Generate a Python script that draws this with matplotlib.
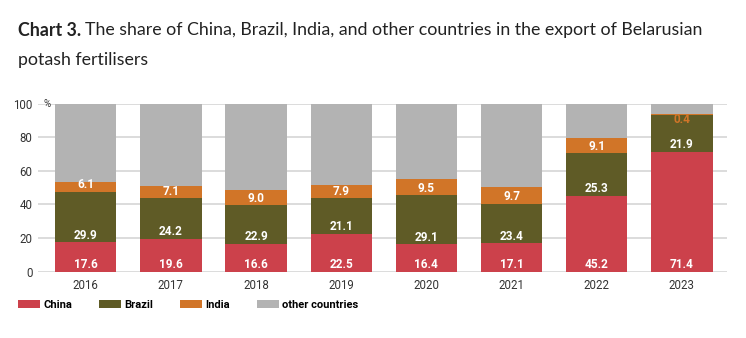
import matplotlib.pyplot as plt
import numpy as np

years = ["2016", "2017", "2018", "2019", "2020", "2021", "2022", "2023"]
china = [17.6, 19.6, 16.6, 22.5, 16.4, 17.1, 45.2, 71.4]
brazil = [29.9, 24.2, 22.9, 21.1, 29.1, 23.4, 25.3, 21.9]
india = [6.1, 7.1, 9.0, 7.9, 9.5, 9.7, 9.1, 0.4]
series_names = ["China", "Brazil", "India", "other countries"]
colors = ["#cc414b", "#5f5b26", "#d17528", "#b3b3b3"]

other = [round(100 - c - b - i, 1) for c, b, i in zip(china, brazil, india)]

fig = plt.figure(figsize=(7.46, 3.38), dpi=100)
ax = fig.add_axes([38 / 746, 1 - 271.7 / 338, (727 - 38) / 746, (271.7 - 103.6) / 338])

x = np.arange(len(years))
bottom = np.zeros(len(years))
for name, vals, col in zip(series_names, [china, brazil, india, other], colors):
    vals = np.array(vals)
    ax.bar(x, vals, width=0.72, bottom=bottom, color=col, label=name, zorder=2)
    if name != "other countries":
        for xi, b, v in zip(x, bottom, vals):
            if v < 2:
                # too thin to hold its label: tuck it just under the segment
                ax.text(xi, b - 2.6, f"{v:.1f}", ha="center", va="center",
                        color=col, fontsize=8.5, fontweight="bold", family="Roboto", zorder=3)
            else:
                ax.text(xi, b + 4.1, f"{v:.1f}", ha="center", va="center",
                        color="white", fontsize=8.5, fontweight="bold", family="Roboto", zorder=3)
    bottom += vals

ax.set_xlim(-0.56, 7.53)
ax.set_ylim(0, 100)
ax.set_yticks([0, 20, 40, 60, 80, 100])
ax.set_xticks(x)
ax.set_xticklabels(years)
ax.yaxis.grid(True, color="#dcdcdc", linewidth=1.4, zorder=0)
ax.set_axisbelow(True)
ax.tick_params(axis="both", length=0, labelsize=8.3, labelcolor="#333333")
ax.tick_params(axis="y", pad=4)
ax.tick_params(axis="x", pad=5)
for lab in ax.get_xticklabels() + ax.get_yticklabels():
    lab.set_family("Roboto")
for s in ax.spines.values():
    s.set_visible(False)

ax.text(-0.5, 100, "%", ha="left", va="center", fontsize=7, color="#333333",
        family="Roboto", zorder=3)

# title: bold lead-in followed by regular text on the same line
title_y1 = 1 - 30 / 338
title_y2 = 1 - 60 / 338
head = fig.text(18 / 746, title_y1, "Chart 3.", fontsize=12.75, color="#222222",
                family="Lato", fontweight="bold", va="center")
fig.canvas.draw()
bb = head.get_window_extent(renderer=fig.canvas.get_renderer())
fig.text((bb.x1 + 4) / 746, title_y1,
         "The share of China, Brazil, India, and other countries in the export of Belarusian",
         fontsize=12.75, color="#222222", family="Lato", va="center")
fig.text(18 / 746, title_y2, "potash fertilisers", fontsize=12.75, color="#222222",
         family="Lato", va="center")

fig.legend(loc="center left", bbox_to_anchor=(8 / 746, 1 - 305 / 338), ncol=4,
           frameon=False, handlelength=2.0, handleheight=0.8, handletextpad=0.25,
           columnspacing=2.45, prop={"family": "Roboto", "weight": "bold", "size": 8})

fig.savefig("out.png", dpi=100)
